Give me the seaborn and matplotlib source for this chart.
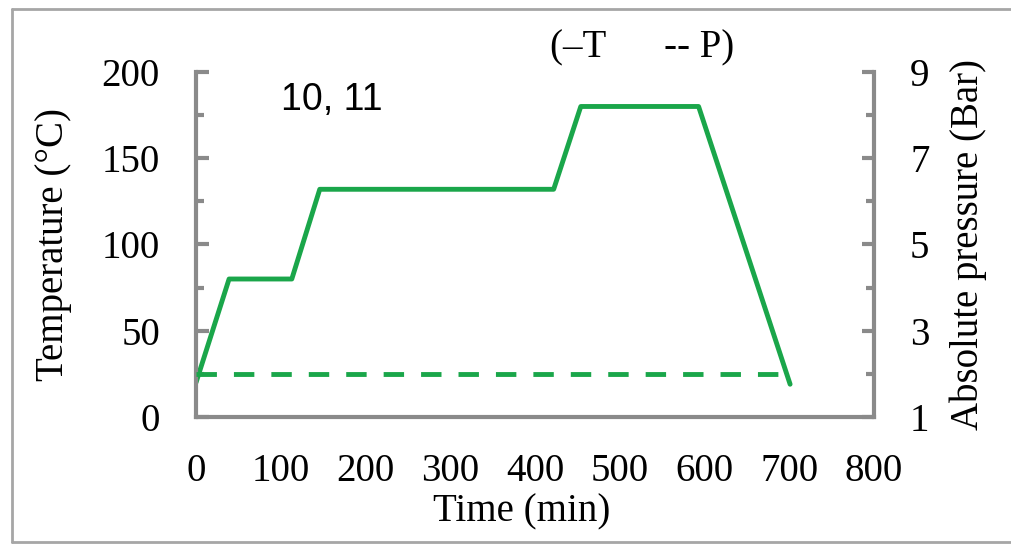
import matplotlib
matplotlib.use("Agg")
import matplotlib.pyplot as plt
from matplotlib.lines import Line2D
import seaborn as sns
import pandas as pd

# temperature profile (min, °C)
time_T = [0, 39, 113, 146, 422, 454, 593, 701]
temp_T = [20, 80, 80, 132, 132, 180, 180, 19]

# pressure profile (min, bar)
time_P = [0, 690]
pres_P = [2, 2]

x_ticks = [0, 100, 200, 300, 400, 500, 600, 700, 800]
t_ticks = [0, 50, 100, 150, 200]
p_ticks = [1, 3, 5, 7, 9]

green = "#1aa64a"
grey = "#8a8a8a"

sns.set_style("white")
plt.rcParams["font.family"] = ["Liberation Serif", "DejaVu Serif"]
plt.rcParams["text.color"] = "black"
plt.rcParams["axes.labelcolor"] = "black"

fig = plt.figure(figsize=(10.11, 5.49), dpi=100)
ax = fig.add_axes([0.1939, 0.2404, 0.6706, 0.6285])
ax2 = ax.twinx()

df_T = pd.DataFrame({"time": time_T, "temp": temp_T})
df_P = pd.DataFrame({"time": time_P, "pres": pres_P})

sns.lineplot(data=df_T, x="time", y="temp", ax=ax, color=green, lw=3.5, sort=False)
sns.lineplot(data=df_P, x="time", y="pres", ax=ax2, color=green, lw=3.5,
             dashes=False, linestyle=(0, (4.2, 3.5)), sort=False)

ax.set_xlim(0, 800)
ax.set_ylim(0, 200)
ax2.set_ylim(1, 9)
ax.set_xticks(x_ticks)
ax.set_xticks(range(50, 800, 100), minor=True)
ax.set_yticks(t_ticks)
ax.set_yticks(range(25, 200, 50), minor=True)
ax2.set_yticks(p_ticks)
ax2.set_yticks([2, 4, 6, 8], minor=True)

for a in (ax, ax2):
    for s in a.spines.values():
        s.set_visible(False)
    a.tick_params(which="major", direction="in", length=9, width=3, color=grey,
                  labelcolor="black", labelsize=28, pad=26)
    a.tick_params(which="minor", direction="in", length=6, width=3, color=grey)
for side in ("left", "bottom"):
    ax.spines[side].set_visible(True)
    ax.spines[side].set_color(grey)
    ax.spines[side].set_linewidth(3)
ax2.spines["right"].set_visible(True)
ax2.spines["right"].set_color(grey)
ax2.spines["right"].set_linewidth(3)
ax.tick_params(axis="y", which="both", right=False)
ax2.tick_params(axis="y", which="both", left=False)

ax.set_xlabel("Time (min)", fontsize=28)
ax.set_ylabel("Temperature (°C)", fontsize=28)
ax2.set_ylabel("Absolute pressure (Bar)", fontsize=28)
ax.xaxis.set_label_coords(0.481, -0.22)
ax.yaxis.set_label_coords(-0.183, 0.5)
ax2.yaxis.set_label_coords(1.112, 0.5)

ax.text(100, 184, "10, 11", fontsize=27, family=["Liberation Sans", "DejaVu Sans"],
        va="center", ha="left")
fig.text(0.544, 0.913, "(–T      -- P)", fontsize=28, va="center", ha="left")

# outer frame (left, top, bottom)
bc = "#a6a6a6"
fig.add_artist(Line2D([12 / 1011, 12 / 1011], [1 - 9 / 549, 1 - 542 / 549], color=bc, lw=2))
fig.add_artist(Line2D([12 / 1011, 1], [1 - 9 / 549, 1 - 9 / 549], color=bc, lw=2))
fig.add_artist(Line2D([12 / 1011, 1], [1 - 542 / 549, 1 - 542 / 549], color=bc, lw=2))

fig.savefig("out.png", dpi=100)
